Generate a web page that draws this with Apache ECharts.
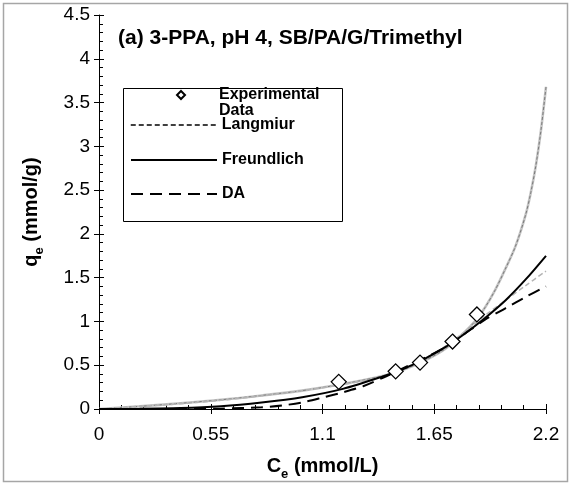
<!DOCTYPE html>
<html><head><meta charset="utf-8">
<script src="https://cdn.jsdelivr.net/npm/echarts@6/dist/echarts.min.js"></script>
<style>html,body{margin:0;padding:0;background:#fff}#c{width:571px;height:486px}</style>
</head><body><div id="c"></div>
<script>
// ---- data ----
const xTickValues = [0, 0.55, 1.1, 1.65, 2.2];
const yTickValues = [0, 0.5, 1, 1.5, 2, 2.5, 3, 3.5, 4, 4.5];

const expC = [1.18, 1.46, 1.58, 1.74, 1.86];
const expQ = [0.31, 0.43, 0.53, 0.77, 1.08];

const langC = [0, 0.2, 0.4, 0.6, 0.8, 1.0, 1.2, 1.4, 1.5, 1.6, 1.7, 1.8, 1.9, 2.0, 2.1, 2.2];
const langQ = [0, 0.03, 0.06, 0.10, 0.15, 0.21, 0.28, 0.37, 0.46, 0.57, 0.71, 0.88, 1.07, 1.24, 1.41, 1.575];

const freuC = [0, 0.2, 0.4, 0.6, 0.8, 1.0, 1.2, 1.4, 1.5, 1.6, 1.7, 1.8, 1.9, 2.0, 2.1, 2.2];
const freuQ = [0, 0.002, 0.01, 0.032, 0.075, 0.135, 0.23, 0.375, 0.46, 0.57, 0.70, 0.86, 1.04, 1.24, 1.48, 1.75];

const daC = [0, 0.4, 0.6, 0.8, 0.9, 1.0, 1.1, 1.2, 1.3, 1.4, 1.5, 1.6, 1.7, 1.8, 1.9, 2.0, 2.1, 2.2];
const daQ = [0, 0, 0.004, 0.02, 0.04, 0.075, 0.13, 0.19, 0.26, 0.36, 0.47, 0.58, 0.70, 0.86, 1.02, 1.15, 1.28, 1.40];

const steepC = [0, 0.2, 0.4, 0.6, 0.8, 1.0, 1.2, 1.4, 1.5, 1.6, 1.7, 1.8, 1.85, 1.9, 1.95, 2.0, 2.05, 2.1, 2.125, 2.15, 2.175, 2.2];
const steepQ = [0, 0.03, 0.065, 0.105, 0.155, 0.21, 0.285, 0.38, 0.45, 0.55, 0.68, 0.88, 1.0, 1.16, 1.36, 1.6, 1.86, 2.22, 2.47, 2.78, 3.18, 3.68];

const seriesNames = ['Experimental Data', 'Langmiur', 'Freundlich', 'DA'];
// ---------------------------------------

const pairs = (xs, ys) => xs.map((x, i) => [x, ys[i]]);
const FONT = "'Liberation Sans', Arial, sans-serif";
const chart = echarts.init(document.getElementById('c'), null, {renderer: 'canvas'});

const axisNameStyle = {
  fontSize: 20, fontWeight: 'bold', color: '#000', fontFamily: FONT, lineHeight: 30,
  rich: { s: { fontSize: 13, fontWeight: 'bold', color: '#000', fontFamily: FONT, lineHeight: 13, verticalAlign: 'bottom' } }
};

const baseX = { type: 'value', min: xTickValues[0], max: xTickValues[xTickValues.length - 1],
  interval: xTickValues[1] - xTickValues[0], position: 'bottom', splitLine: { show: false } };
const baseY = { type: 'value', min: yTickValues[0], max: yTickValues[yTickValues.length - 1],
  interval: yTickValues[1] - yTickValues[0], position: 'left', splitLine: { show: false } };

const legendText = { fontSize: 16, fontWeight: 'bold', color: '#000', fontFamily: FONT, lineHeight: 16 };
const hiddenDot = { color: 'rgba(0,0,0,0)', borderWidth: 0, opacity: 0 };
const SMOOTH = 0.3;

const option = {
  animation: false,
  backgroundColor: '#fff',
  textStyle: { fontFamily: FONT },
  title: {
    text: '(a) 3-PPA, pH 4, SB/PA/G/Trimethyl', left: 118, top: 28, padding: 0,
    textStyle: { fontSize: 21, fontWeight: 'bold', color: '#000', fontFamily: FONT }
  },
  grid: { left: 99, right: 25, top: 15, bottom: 75 },
  graphic: [
    { type: 'rect', silent: true, z: -1, shape: { x: 3.5, y: 3.5, width: 564, height: 478 },
      style: { fill: 'none', stroke: '#a6a6a6', lineWidth: 1.5 } },
    { type: 'rect', silent: true, z: 3, shape: { x: 123.5, y: 88.5, width: 219, height: 133 },
      style: { fill: '#fff', stroke: '#000', lineWidth: 1 } }
  ],
  legend: [
    { data: [{ name: seriesNames[0], icon: 'diamond' }], left: 176, top: 71, padding: 0,
      itemWidth: 8, itemHeight: 8, selectedMode: false, z: 5,
      formatter: () => ' \nExperimental\nData',
      textStyle: Object.assign({}, legendText, { padding: [0, 0, 0, 29] }) },
    { data: [{ name: seriesNames[1], itemStyle: hiddenDot, lineStyle: { color: '#000', width: 1.5, type: [5, 3] } }],
      left: 130, top: 117, padding: 0,
      itemWidth: 86, itemHeight: 18, selectedMode: false, z: 5, textStyle: legendText,
      lineStyle: { color: '#000', width: 1.5, type: [5, 3] } },
    { data: [{ name: seriesNames[2], itemStyle: hiddenDot }], left: 130, top: 152, padding: 0, itemWidth: 86, itemHeight: 18,
      selectedMode: false, z: 5, textStyle: legendText },
    { data: [{ name: seriesNames[3], itemStyle: hiddenDot }], left: 130, top: 186, padding: 0, itemWidth: 86, itemHeight: 18,
      selectedMode: false, z: 5, textStyle: legendText }
  ],
  xAxis: [
    Object.assign({}, baseX, {
      axisLine: { onZero: false, lineStyle: { color: '#000', width: 1 } },
      axisTick: { show: true, inside: false, length: 5, lineStyle: { color: '#000', width: 1 } },
      axisLabel: { color: '#000', fontSize: 19, margin: 16, fontFamily: FONT },
      name: 'C{s|e} (mmol/L)', nameLocation: 'middle', nameGap: 42, nameTextStyle: axisNameStyle
    }),
    Object.assign({}, baseX, {
      axisLine: { show: false, onZero: false },
      axisTick: { show: true, inside: true, length: 5, lineStyle: { color: '#000', width: 1 } },
      minorTick: { show: true, splitNumber: 5, length: 4, lineStyle: { color: '#000', width: 1 } },
      axisLabel: { show: false }
    })
  ],
  yAxis: [
    Object.assign({}, baseY, {
      axisLine: { show: true, onZero: false, lineStyle: { color: '#000', width: 1 } },
      axisTick: { show: true, inside: false, length: 5, lineStyle: { color: '#000', width: 1 } },
      axisLabel: { color: '#000', fontSize: 19, margin: 9, fontFamily: FONT },
      name: 'q{s|e} (mmol/g)', nameLocation: 'middle', nameGap: 53, nameRotate: 90, nameTextStyle: axisNameStyle
    }),
    Object.assign({}, baseY, {
      axisLine: { show: false, onZero: false },
      axisTick: { show: true, inside: true, length: 5, lineStyle: { color: '#000', width: 1 } },
      minorTick: { show: true, splitNumber: 5, length: 4, lineStyle: { color: '#000', width: 1 } },
      axisLabel: { show: false }
    })
  ],
  series: [
    { name: 'steep-base', type: 'line', data: pairs(steepC, steepQ), symbol: 'none', smooth: SMOOTH,
      itemStyle: hiddenDot, lineStyle: { color: '#c4c4c4', width: 2.6 }, z: 2 },
    { name: 'steep-dash', type: 'line', data: pairs(steepC, steepQ), symbol: 'none', smooth: SMOOTH,
      itemStyle: hiddenDot, lineStyle: { color: '#7a7a7a', width: 1, type: [3, 2] }, z: 2 },
    { name: seriesNames[1], type: 'line', data: pairs(langC, langQ), symbol: 'none', smooth: SMOOTH,
      itemStyle: hiddenDot, lineStyle: { color: '#b4b4b4', width: 1.5, type: [5, 3] }, z: 3 },
    { name: seriesNames[2], type: 'line', data: pairs(freuC, freuQ), symbol: 'none', smooth: SMOOTH,
      itemStyle: hiddenDot, lineStyle: { color: '#000', width: 2 }, z: 4 },
    { name: seriesNames[3], type: 'line', data: pairs(daC, daQ), symbol: 'none', smooth: SMOOTH,
      itemStyle: hiddenDot, lineStyle: { color: '#000', width: 2, type: [12, 7] }, z: 4 },
    { name: seriesNames[0], type: 'scatter', data: pairs(expC, expQ), symbol: 'diamond', symbolSize: 15,
      symbolKeepAspect: true,
      itemStyle: { color: '#fff', borderColor: '#000', borderWidth: 1.3, opacity: 1 }, z: 6 }
  ]
};
chart.setOption(option);
</script></body></html>
